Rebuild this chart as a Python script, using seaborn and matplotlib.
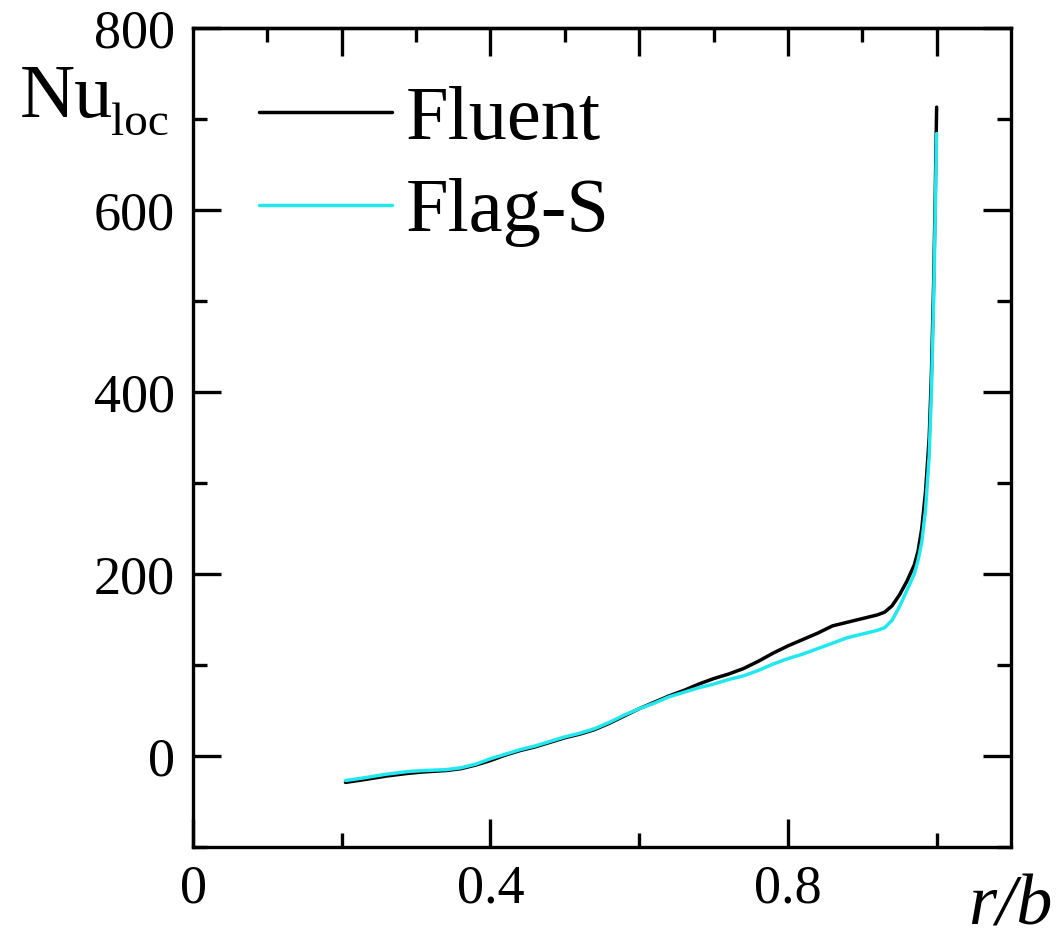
import numpy as np
import pandas as pd
import matplotlib
matplotlib.use("Agg")
import matplotlib.pyplot as plt
from matplotlib.ticker import FixedLocator, NullFormatter
import seaborn as sns

# ---- data ----
r_fluent = [0.205, 0.23, 0.26, 0.29, 0.31, 0.34, 0.36, 0.38, 0.40, 0.42, 0.44, 0.46,
            0.48, 0.50, 0.52, 0.54, 0.56, 0.58, 0.60, 0.62, 0.64, 0.66, 0.68, 0.70,
            0.72, 0.74, 0.76, 0.78, 0.80, 0.82, 0.84, 0.86, 0.88, 0.90, 0.92, 0.93,
            0.94, 0.95, 0.96, 0.97, 0.975, 0.98, 0.985, 0.99, 0.993, 0.996, 0.998, 1.0]
nu_fluent = [-29, -26, -22, -19, -17.5, -16, -14, -10, -5, 1, 6, 10,
             15, 20, 24, 29, 36, 44, 52, 59, 66, 72, 79, 85,
             90, 96, 104, 113, 121, 128, 135, 143, 147, 151, 155, 158,
             165, 177, 192, 210, 225, 250, 290, 350, 420, 520, 610, 713]
r_flag = r_fluent
nu_flag = [-27, -24, -20, -17, -16, -15, -13, -9, -3, 2, 7, 11,
           16, 21, 25, 30, 37, 45, 52, 58, 65, 70, 75, 79,
           84, 88, 94, 101, 107, 112, 118, 124, 130, 134, 138, 141,
           149, 164, 182, 200, 215, 235, 270, 330, 400, 500, 590, 684]
series_names = ["Fluent", "Flag-S"]
x_major_bottom = [0, 0.4, 0.8]
x_minor_bottom = [0.2, 0.6, 1.0]
x_labels = ["0", "0.4", "0.8"]
x_major_top = [0.2, 0.4, 0.6, 0.8, 1.0]
x_minor_top = [0.1, 0.3, 0.5, 0.7, 0.9]
y_major = [0, 200, 400, 600, 800]
y_minor = [-100, 100, 300, 500, 700]

df = pd.DataFrame({
    "r": r_fluent + r_flag,
    "Nu": nu_fluent + nu_flag,
    "src": [series_names[0]] * len(r_fluent) + [series_names[1]] * len(r_flag),
})

sns.set_theme(style="ticks")
plt.rcParams["font.family"] = ["Liberation Serif", "DejaVu Serif"]
plt.rcParams["text.color"] = "black"
plt.rcParams["axes.labelcolor"] = "black"
plt.rcParams["xtick.color"] = "black"
plt.rcParams["ytick.color"] = "black"

fig = plt.figure(figsize=(10.56, 9.40), dpi=100)
ax = fig.add_axes([193 / 1056, 1 - 847 / 940, (1011 - 193) / 1056, (847 - 28) / 940])

palette = {"Fluent": "black", "Flag-S": "#22E8EE"}
sns.lineplot(data=df, x="r", y="Nu", hue="src", palette=palette, sort=False,
             estimator=None, linewidth=2.5, ax=ax, legend=True)

ax.set_xlim(0, 1.1)
ax.set_ylim(-100, 800)
ax.set_xlabel("")
ax.set_ylabel("")

for s in ax.spines.values():
    s.set_linewidth(2.4)
    s.set_color("black")
    s.set_visible(True)

ax.xaxis.set_major_locator(FixedLocator(x_major_bottom))
ax.xaxis.set_minor_locator(FixedLocator(x_minor_bottom))
ax.set_xticklabels(x_labels)
ax.yaxis.set_major_locator(FixedLocator(y_major))
ax.yaxis.set_minor_locator(FixedLocator(y_minor))
ax.set_yticklabels([str(v) for v in y_major])

ax.tick_params(axis="both", which="major", direction="in", length=20, width=2.4,
               labelsize=39, color="black", labelcolor="black")
ax.tick_params(axis="both", which="minor", direction="in", length=10, width=2.4,
               color="black")
ax.tick_params(axis="y", which="both", left=True, right=True, pad=13)
ax.tick_params(axis="x", which="both", bottom=True, top=False, pad=12)

# top ticks at finer spacing
sec = ax.secondary_xaxis("top")
sec.xaxis.set_major_locator(FixedLocator(x_major_top))
sec.xaxis.set_minor_locator(FixedLocator(x_minor_top))
sec.xaxis.set_major_formatter(NullFormatter())
sec.tick_params(axis="x", which="major", direction="in", length=20, width=2.4, color="black")
sec.tick_params(axis="x", which="minor", direction="in", length=10, width=2.4, color="black")
sec.spines["top"].set_linewidth(2.4)

# legend
leg = ax.legend(title=None, loc="upper left", bbox_to_anchor=(0.043, 0.967),
                frameon=False, fontsize=55, handlelength=1.75, handletextpad=0.18,
                labelspacing=0.30, borderaxespad=0.0)
for line in leg.get_lines():
    line.set_linewidth(2.5)
for t in leg.get_texts():
    t.set_color("black")

# axis labels as figure text
fig.text(20 / 1056, 1 - 117 / 940, "Nu", fontsize=55, ha="left", va="baseline", color="black")
fig.text(111 / 1056, 1 - 135 / 940, "loc", fontsize=34, ha="left", va="baseline", color="black")
fig.text(1052 / 1056, 1 - 924 / 940, "r/b", fontsize=52, style="italic",
         ha="right", va="baseline", color="black")

fig.savefig("out.png", dpi=100, facecolor="white")
